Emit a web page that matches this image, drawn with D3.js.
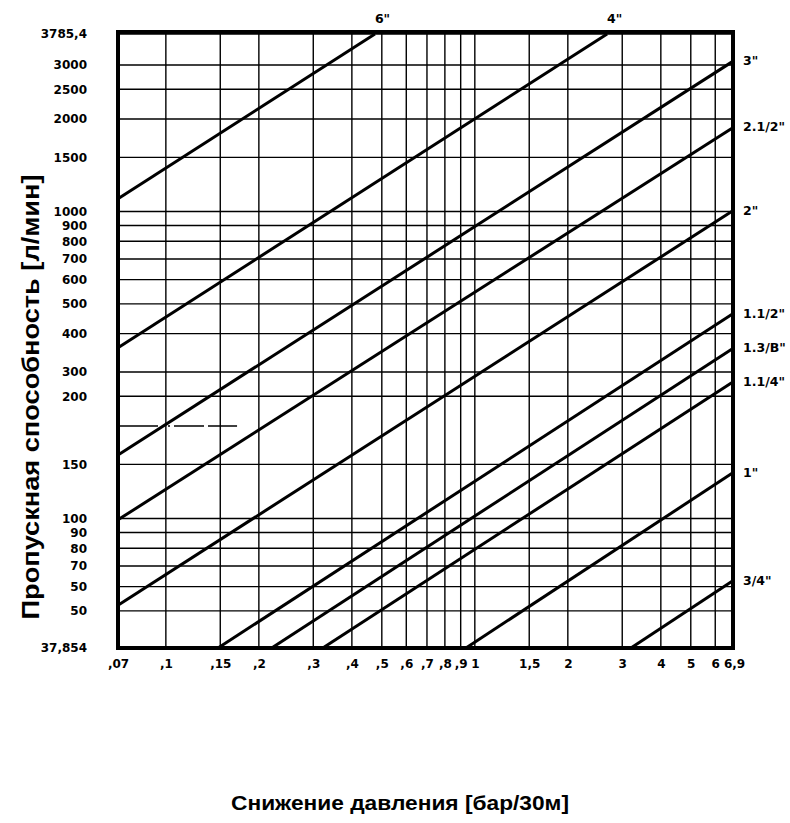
<!DOCTYPE html>
<html lang="ru">
<head>
  <meta charset="UTF-8">
  <title>Пропускная способность трубопроводов</title>
  <script src="https://d3js.org/d3.v7.min.js"></script>
  <style>
    body { margin: 0; background: #fff; }
    .tick-label { font-family: "DejaVu Sans", sans-serif; font-weight: bold; font-size: 12px; fill: #000; }
    .size-label { font-family: "DejaVu Sans", sans-serif; font-weight: bold; font-size: 12.5px; fill: #000; }
    .title { font-family: "Liberation Sans", Arial, sans-serif; font-weight: bold; fill: #000; }
    .grid line { stroke: #000; stroke-width: 1.4px; }
    .pipe { stroke: #000; stroke-width: 3px; fill: none; }
  </style>
</head>
<body>
  <div id="chart"></div>
  <script>
    // pressure drop ticks [bar/30m]
    const xTicks = [0.07, 0.1, 0.15, 0.2, 0.3, 0.4, 0.5, 0.6, 0.7, 0.8, 0.9, 1, 1.5, 2, 3, 4, 5, 6, 6.9];
    const xLabels = [",07", ",1", ",15", ",2", ",3", ",4", ",5", ",6", ",7", ",8", ",9", "1", "1,5", "2", "3", "4", "5", "6", "6,9"];

    // flow ticks [l/min] (labels as printed on the original, typos included)
    const yTicks = [3785.4, 3000, 2500, 2000, 1500, 1000, 900, 800, 700, 600, 500, 400, 300, 250, 150, 100, 90, 80, 70, 60, 50, 37.854];
    const yLabels = ["3785,4", "3000", "2500", "2000", "1500", "1000", "900", "800", "700", "600", "500", "400", "300", "200", "150", "100", "90", "80", "70", "50", "50", "37,854"];

    // pipe lines: start/end as (pressure drop, flow)
    const pipeSizes = ["6\"", "4\"", "3\"", "2.1/2\"", "2\"", "1.1/2\"", "1.3/B\"", "1.1/4\"", "1\"", "3/4\""];
    const startDrop = [0.07, 0.07, 0.07, 0.07, 0.07, 0.1475, 0.22, 0.322, 0.936, 3.2];
    const startFlow = [1100, 360, 161, 99, 52.2, 37.854, 37.854, 37.854, 37.854, 37.854];
    const endDrop = [0.475, 2.68, 6.9, 6.9, 6.9, 6.9, 6.9, 6.9, 6.9, 6.9];
    const endFlow = [3785.4, 3785.4, 3100, 1885, 1011, 467, 360, 280, 141.7, 63];

    const W = 790, H = 823;
    const plot = { left: 118, right: 734, top: 34, bottom: 648 };

    const svg = d3.select("#chart").append("svg")
      .attr("width", W)
      .attr("height", H);

    const x = d3.scaleLog().domain([0.07, 6.9]).range([plot.left, plot.right]);
    const y = d3.scaleLog().domain([37.854, 3785.4]).range([plot.bottom, plot.top]);

    // grid
    const grid = svg.append("g").attr("class", "grid");
    grid.selectAll(".vline")
      .data(xTicks)
      .enter().append("line")
      .attr("x1", d => x(d)).attr("x2", d => x(d))
      .attr("y1", plot.top).attr("y2", plot.bottom);
    grid.selectAll(".hline")
      .data(yTicks)
      .enter().append("line")
      .attr("x1", plot.left).attr("x2", plot.right)
      .attr("y1", d => y(d)).attr("y2", d => y(d));
    // short broken line at 200 l/min
    grid.append("line")
      .attr("x1", x(0.07)).attr("x2", x(0.17))
      .attr("y1", y(200)).attr("y2", y(200))
      .style("stroke-dasharray", "40,4,2,4,2,4,30,4");

    // pipe lines
    const pipes = pipeSizes.map((s, i) => ({
      size: s,
      pts: [[startDrop[i], startFlow[i]], [endDrop[i], endFlow[i]]]
    }));
    const line = d3.line().x(d => x(d[0])).y(d => y(d[1]));
    svg.selectAll(".pipe")
      .data(pipes)
      .enter().append("path")
      .attr("class", "pipe")
      .attr("d", d => line(d.pts));

    // size labels: on top edge or right edge
    svg.selectAll(".size-label")
      .data(pipes)
      .enter().append("text")
      .attr("class", "size-label")
      .attr("x", d => d.pts[1][1] >= 3785.4 ? x(d.pts[1][0]) : x(d.pts[1][0]) + 9)
      .attr("y", d => d.pts[1][1] >= 3785.4 ? 23 : y(d.pts[1][1]) + 4.5)
      .text(d => d.size);

    // frame
    svg.append("rect")
      .attr("x", plot.left).attr("y", plot.top - 2)
      .attr("width", plot.right - plot.left - 1)
      .attr("height", plot.bottom - plot.top + 2)
      .attr("fill", "none")
      .attr("stroke", "#000")
      .attr("stroke-width", 4);

    // axes
    const yAxis = svg.append("g")
      .attr("transform", `translate(${plot.left},0)`)
      .call(d3.axisLeft(y).tickValues(yTicks).tickFormat((d, i) => yLabels[i]).tickSize(0).tickPadding(31));
    const xAxis = svg.append("g")
      .attr("transform", `translate(0,${plot.bottom})`)
      .call(d3.axisBottom(x).tickValues(xTicks).tickFormat((d, i) => xLabels[i]).tickSize(0).tickPadding(11));
    [xAxis, yAxis].forEach(a => {
      a.select(".domain").remove();
      a.attr("font-size", null).attr("font-family", null);
      a.selectAll("text").attr("class", "tick-label");
    });

    // titles
    svg.append("text")
      .attr("class", "title")
      .attr("transform", "translate(39,397) rotate(-90)")
      .attr("text-anchor", "middle")
      .attr("textLength", 445)
      .attr("lengthAdjust", "spacingAndGlyphs")
      .style("font-size", "24px")
      .text("Пропускная способность [л/мин]");

    svg.append("text")
      .attr("class", "title")
      .attr("x", 400).attr("y", 810)
      .attr("text-anchor", "middle")
      .attr("textLength", 338)
      .attr("lengthAdjust", "spacingAndGlyphs")
      .style("font-size", "20px")
      .text("Снижение давления [бар/30м]");
  </script>
</body>
</html>
